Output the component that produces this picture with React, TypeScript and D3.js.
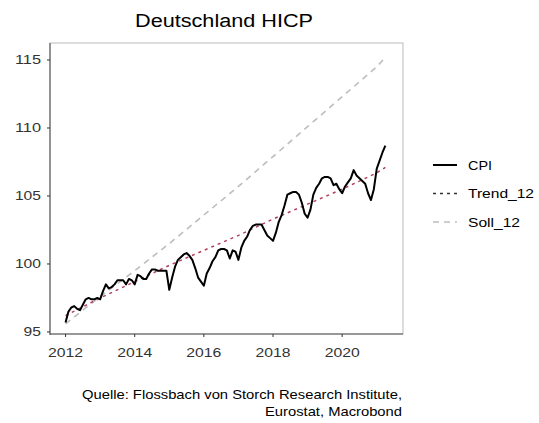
import React from "react";
import * as d3 from "d3";

// monthly HICP, Jan 2012 .. Apr 2021
const cpi2012 = [95.7, 96.5, 96.8, 96.9, 96.7, 96.6, 97.0, 97.4, 97.5, 97.4, 97.4, 97.5];
const cpi2013 = [97.4, 98.0, 98.5, 98.2, 98.3, 98.5, 98.8, 98.8, 98.8, 98.5, 98.9, 98.8];
const cpi2014 = [98.5, 99.2, 99.1, 98.9, 98.9, 99.3, 99.6, 99.6, 99.5, 99.5, 99.5, 99.5];
const cpi2015 = [98.1, 99.0, 99.8, 100.3, 100.5, 100.7, 100.8, 100.6, 100.3, 99.7, 99.0, 98.7];
const cpi2016 = [98.4, 99.3, 99.7, 100.2, 100.5, 101.0, 101.1, 101.1, 101.0, 100.4, 101.0, 100.9];
const cpi2017 = [100.3, 101.2, 101.7, 102.0, 102.5, 102.8, 102.9, 102.9, 102.9, 102.5, 102.1, 101.9];
const cpi2018 = [101.7, 102.3, 103.1, 103.6, 104.3, 105.1, 105.2, 105.3, 105.3, 105.1, 104.5, 103.7];
const cpi2019 = [103.4, 104.0, 105.1, 105.6, 105.9, 106.3, 106.4, 106.4, 106.3, 105.8, 105.9, 105.5];
const cpi2020 = [105.2, 105.7, 106.0, 106.3, 106.9, 106.5, 106.3, 106.1, 105.9, 105.2, 104.7, 105.5];
const cpi2021 = [107.0, 107.6, 108.2, 108.7];

// Trend_12 and Soll_12 read at the start of each year and at the last month
const anchorYears = [2012, 2013, 2014, 2015, 2016, 2017, 2018, 2019, 2020, 2021, 2021.25];
const trend12 = [96.2, 97.5, 98.7, 99.9, 101.0, 102.1, 103.3, 104.4, 105.5, 106.7, 107.1];
const soll12 = [95.6, 97.6, 99.5, 101.5, 103.6, 105.7, 107.9, 110.1, 112.3, 114.5, 115.2];

const yTicks = [95, 100, 105, 110, 115];
const xTicks = [2012, 2014, 2016, 2018, 2020];
const legendLabels = ["CPI", "Trend_12", "Soll_12"];
const legendWidths = [24, 66, 52];

const font = "'Liberation Sans', Arial, sans-serif";

const App = () => {
  const width = 539;
  const height = 423;
  const left = 50;
  const right = 403;
  const top = 43;
  const bottom = 334;

  const x = d3.scaleLinear().domain([2011.55, 2021.76]).range([left, right]);
  const y = d3.scaleLinear().domain([94.85, 116.25]).range([bottom, top]);

  const cpi = [
    ...cpi2012, ...cpi2013, ...cpi2014, ...cpi2015, ...cpi2016,
    ...cpi2017, ...cpi2018, ...cpi2019, ...cpi2020, ...cpi2021,
  ].map((v, i) => ({ t: 2012 + i / 12, v }));

  const line = d3
    .line<{ t: number; v: number }>()
    .x((d) => x(d.t))
    .y((d) => y(d.v));

  const trend = anchorYears.map((t, i) => ({ t, v: trend12[i] }));
  const soll = anchorYears.map((t, i) => ({ t, v: soll12[i] }));

  const styles = [
    { stroke: "#000", dash: "none", w: 2 },
    { stroke: "#b0405e", dash: "3,4", w: 1.5 },
    { stroke: "#bdbdbd", dash: "6,5", w: 1.6 },
  ];

  return (
    <svg
      width={width}
      height={height}
      style={{ position: "absolute", left: 0, top: 0, background: "#fff" }}
      fontFamily={font}
    >
      <text x={224} y={27} textAnchor="middle" fontSize={18} fill="#000" textLength={178} lengthAdjust="spacingAndGlyphs">
        Deutschland HICP
      </text>

      {/* panel */}
      <rect x={left} y={top} width={right - left} height={bottom - top} fill="#fff" stroke="#bbb" strokeWidth={1} />
      <line x1={left} x2={left} y1={top} y2={bottom + 1} stroke="#555" strokeWidth={1.1} />
      <line x1={left} x2={right} y1={bottom} y2={bottom} stroke="#555" strokeWidth={1.1} />

      {yTicks.map((t) => (
        <g key={`y${t}`}>
          <line x1={left - 3} x2={left} y1={y(t)} y2={y(t)} stroke="#333" />
          <text x={41} y={y(t) + 4.5} textAnchor="end" fontSize={13} fill="#333"
            textLength={String(t).length * 8.7} lengthAdjust="spacingAndGlyphs">
            {t}
          </text>
        </g>
      ))}
      {xTicks.map((t) => (
        <g key={`x${t}`}>
          <line x1={x(t)} x2={x(t)} y1={bottom} y2={bottom + 3} stroke="#333" />
          <text x={x(t)} y={357} textAnchor="middle" fontSize={13} fill="#333" textLength={35} lengthAdjust="spacingAndGlyphs">
            {t}
          </text>
        </g>
      ))}

      <path d={line(soll) || ""} fill="none" stroke={styles[2].stroke} strokeWidth={styles[2].w} strokeDasharray={styles[2].dash} />
      <path d={line(trend) || ""} fill="none" stroke={styles[1].stroke} strokeWidth={styles[1].w} strokeDasharray={styles[1].dash} />
      <path d={line(cpi) || ""} fill="none" stroke={styles[0].stroke} strokeWidth={styles[0].w} strokeLinejoin="round" />

      {/* legend */}
      {legendLabels.map((lab, i) => (
        <g key={lab} transform={`translate(0, ${165 + i * 28.5})`}>
          <line x1={433} x2={457} y1={0} y2={0} stroke={i === 1 ? "#333" : styles[i].stroke} strokeWidth={styles[i].w} strokeDasharray={styles[i].dash} />
          <text x={468} y={4.5} fontSize={13} fill="#000" textLength={legendWidths[i]} lengthAdjust="spacingAndGlyphs">
            {lab}
          </text>
        </g>
      ))}

      <text x={402} y={399} textAnchor="end" fontSize={13} fill="#000" textLength={320} lengthAdjust="spacingAndGlyphs">
        Quelle: Flossbach von Storch Research Institute,
      </text>
      <text x={402} y={416} textAnchor="end" fontSize={13} fill="#000" textLength={137} lengthAdjust="spacingAndGlyphs">
        Eurostat, Macrobond
      </text>
    </svg>
  );
};

export default App;
